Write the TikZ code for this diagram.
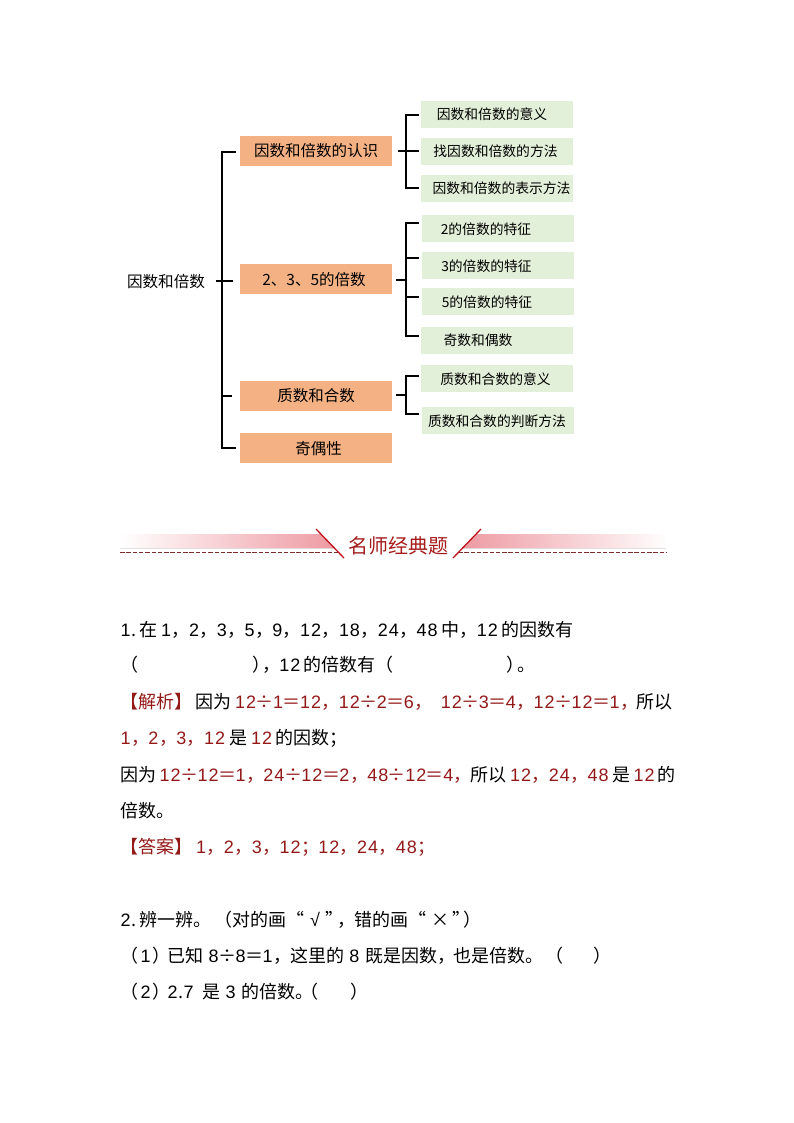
\documentclass[tikz,border=0pt]{standalone}
\usepackage{fontspec}
\setmainfont[Kerning=Off,RawFeature={-palt;-halt;-kern}]{Noto Sans CJK SC}
\newfontfamily\digf{Liberation Sans}
\definecolor{ans}{HTML}{931818}
\definecolor{headred}{HTML}{A51C1C}
\definecolor{slashred}{HTML}{C0171F}
\definecolor{dashred}{HTML}{7E2C2C}
\definecolor{bandpink}{HTML}{EE9AA2}
\definecolor{orangebox}{HTML}{F4B183}
\definecolor{greenbox}{HTML}{E2EFD9}
\newcommand{\rd}[1]{\textcolor{ans}{#1}}
\newcommand{\nm}[1]{\nmloop#1\relax}
\def\nmloop#1{\ifx#1\relax\else\makebox[11pt][c]{\fontsize{18}{18}\digf #1}\expandafter\nmloop\fi}
\newcommand{\cmm}{\makebox[16.8pt][l]{，}}
\newcommand{\semi}{\makebox[16.8pt][l]{；}}
\newcommand{\divs}{\makebox[16pt][c]{÷}}
\newcommand{\eqs}{\makebox[16pt][c]{＝}}
\newcommand{\gp}{\kern3.5pt}
\tikzset{
  obox/.style={fill=orangebox,minimum width=152pt,minimum height=30pt,inner sep=0pt,text height=13.5pt,text depth=1.5pt,font=\fontsize{15.5}{15.5}\selectfont},
  gbox/.style={fill=greenbox,minimum width=152pt,minimum height=27pt,inner sep=0pt,text height=12.5pt,text depth=1.5pt,font=\fontsize{13.8}{13.8}\selectfont},
  rootlabel/.style={inner sep=0pt,text height=13.5pt,text depth=1.5pt,font=\fontsize{15.6}{15.6}\selectfont},
  conn/.style={draw=black,line width=1.5pt},
  txt/.style={anchor=base west,inner sep=0pt,font=\fontsize{18}{18}\selectfont},
  dashrule/.style={draw=dashred,line width=1.8pt,dash pattern=on 4.5pt off 1.8pt},
  slash/.style={draw=slashred,line width=1.3pt}
}
\begin{document}
\begin{tikzpicture}[x=1pt,y=-1pt]
\useasboundingbox (0,0) rectangle (794,1123);
% diagram
\node[rootlabel] (root) at (166,281) {因数和倍数};
\node[obox] (o1) at (316,151) {因数和倍数的认识};
\node[obox] (o2) at (316,279) {\hspace*{-4pt}2、3、5的倍数};
\node[obox] (o3) at (316,395.5) {质数和合数};
\node[obox] (o4) at (316,448) {\hspace*{5pt}奇偶性};
\node[gbox] (g1) at (497,114.5) {\hspace*{-10pt}因数和倍数的意义};
\node[gbox] (g2) at (497,151.5) {\hspace*{-3pt}找因数和倍数的方法};
\node[gbox] (g3) at (497,188.5) {\hspace*{9pt}因数和倍数的表示方法};
\node[gbox] (g4) at (498,228.5) {\hspace*{-24pt}2的倍数的特征};
\node[gbox] (g5) at (498,265.5) {\hspace*{-23pt}3的倍数的特征};
\node[gbox] (g6) at (498,301.5) {\hspace*{-22pt}5的倍数的特征};
\node[gbox] (g7) at (497,340) {\hspace*{-38pt}奇数和偶数};
\node[gbox] (g8) at (497,378.5) {\hspace*{-3pt}质数和合数的意义};
\node[gbox] (g9) at (498,420.5) {\hspace*{-2pt}质数和合数的判断方法};
% trunk
\coordinate (rootend) at (216,281);
\coordinate (roottick) at (233,281);
\coordinate (k1) at (236,152);
\coordinate (k3) at (232,396);
\coordinate (k4) at (236,448);
\coordinate (trunk1) at (222,152);
\coordinate (trunk3) at (222,396);
\coordinate (trunk4) at (222,448);
\draw[conn] (k1) -- (trunk1) -- (trunk4) -- (k4);
\draw[conn] (trunk3) -- (k3);
\draw[conn] (rootend) -- (roottick);
% bracket 1
\coordinate (a1) at (419,115);
\coordinate (a2) at (419,151);
\coordinate (a3) at (419,188);
\coordinate (a0) at (398,151);
\coordinate (av1) at (406,115);
\coordinate (av3) at (406,188);
\draw[conn] (a1) -- (av1) -- (av3) -- (a3);
\draw[conn] (a0) -- (a2);
% bracket 2
\coordinate (b1) at (419,223);
\coordinate (b2) at (419,258);
\coordinate (b3) at (419,297);
\coordinate (b4) at (419,336);
\coordinate (b0) at (396,280);
\coordinate (bm) at (406,280);
\coordinate (bv1) at (406,223);
\coordinate (bv2) at (406,258);
\coordinate (bv3) at (406,297);
\coordinate (bv4) at (406,336);
\draw[conn] (b1) -- (bv1) -- (bv4) -- (b4);
\draw[conn] (bv2) -- (b2);
\draw[conn] (bv3) -- (b3);
\draw[conn] (b0) -- (bm);
% bracket 3
\coordinate (c1) at (419,376);
\coordinate (c2) at (419,414);
\coordinate (c0) at (396,395);
\coordinate (cm) at (406,395);
\coordinate (cv1) at (406,376);
\coordinate (cv2) at (406,414);
\draw[conn] (c1) -- (cv1) -- (cv2) -- (c2);
\draw[conn] (c0) -- (cm);
% heading
\fill[left color=white,right color=bandpink] (120,534) -- (321,534) -- (335,548) -- (120,548) -- cycle;
\fill[left color=bandpink,right color=white] (476,534) -- (670,534) -- (670,548) -- (462,548) -- cycle;
\fill[white] (666,532) rectangle (673,550);
\draw[dashrule] (120,552.5) -- (340,552.5);
\draw[dashrule] (458,552.5) -- (666,552.5);
\draw[slash] (316,529) -- (344,558);
\draw[slash] (481,529) -- (453,558);
\node[inner sep=0pt,text=headred,font=\fontsize{20}{20}\selectfont] (head) at (398.5,545.5) {名师经典题};
% body
\node[txt] (l1) at (120,636) {\nm{1}.\kern3pt 在\gp\nm{1}\cmm\nm{2}\cmm\nm{3}\cmm\nm{5}\cmm\nm{9}\cmm\nm{12}\cmm\nm{18}\cmm\nm{24}\cmm\nm{48}\gp 中\cmm\nm{12}\gp 的因数有};
\node[txt] (l2a) at (120,671.5) {（};
\node[txt] (l2b) at (252,671.5) {）\kern-8pt\cmm\nm{12}\kern2.5pt 的倍数有（};
\node[txt] (l2d) at (506,671.5) {）\kern-7pt 。};
\node[txt] (l3) at (120,708) {\rd{【解析】}\kern3pt 因为\gp\rd{\nm{12}\divs\nm{1}\eqs\nm{12}\cmm\nm{12}\divs\nm{2}\eqs\nm{6}\cmm\kern9pt\nm{12}\divs\nm{3}\eqs\nm{4}\cmm\nm{12}\divs\nm{12}\eqs\nm{1}\cmm}所以};
\node[txt] (l4) at (120,744.5) {\rd{\nm{1}\cmm\nm{2}\cmm\nm{3}\cmm\nm{12}}\gp 是\gp\rd{\nm{12}}\kern3pt 的因数\semi};
\node[txt] (l5) at (120,781) {因为\kern3pt\rd{\nm{12}\divs\nm{12}\eqs\nm{1}\cmm\nm{24}\divs\nm{12}\eqs\nm{2}\cmm\nm{48}\divs\nm{12}\eqs\nm{4}\cmm}所以\kern3pt\rd{\nm{12}\cmm\nm{24}\cmm\nm{48}}\kern3pt 是\kern3pt\rd{\nm{12}}\kern2pt 的};
\node[txt] (l6) at (120,817.5) {倍数。};
\node[txt] (l7) at (120,853.5) {\rd{【答案】\gp\nm{1}\cmm\nm{2}\cmm\nm{3}\cmm\nm{12}\semi\nm{12}\cmm\nm{24}\cmm\nm{48}\semi}};
\node[txt] (l8a) at (120,926) {\nm{2}.\kern3pt 辨一辨。\kern3pt（对的画};
\node[txt] (l8c) at (286,926) {“};
\node[txt] (l8d) at (310,926) {{\digf √}};
\node[txt] (l8e) at (325,926) {”};
\node[txt] (l8f) at (337,926) {\cmm 错的画};
\node[txt] (l8g) at (408,926) {“};
\node[txt] (l8h) at (431,926) {×};
\node[txt] (l8i) at (452,926) {”};
\node[txt] (l8j) at (463,926) {）};
\node[txt] (l9a) at (120,962) {（\kern2pt\nm{1}\kern1pt）\kern-3pt 已知\kern5pt\nm{8}\divs\nm{8}\eqs\nm{1}\cmm 这里的\kern5pt\nm{8}\kern5pt 既是因数\cmm 也是倍数。};
\node[txt] (l9e) at (545,962) {（};
\node[txt] (l9f) at (593,962) {）};
\node[txt] (l10a) at (120,998) {（\kern2pt\nm{2}\kern1pt）\kern-3pt\nm{2}.\nm{7}\kern8pt 是\kern5pt\nm{3}\kern5pt 的倍数。};
\node[txt] (l10e) at (300,998) {（};
\node[txt] (l10f) at (350,998) {）};
\end{tikzpicture}
\end{document}
